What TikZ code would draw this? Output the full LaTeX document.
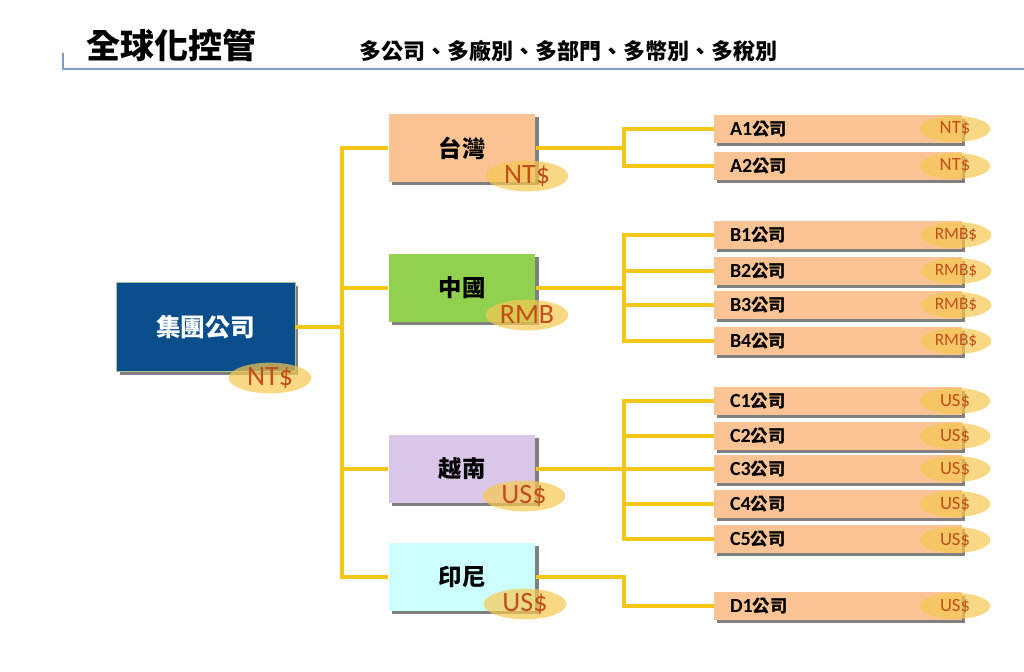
\documentclass[tikz,border=0pt]{standalone}
\usepackage{fontspec}
\setmainfont{Carlito}
\newfontfamily\cjk{Noto Sans CJK TC}
\newfontfamily\carl{Carlito}
\usetikzlibrary{shadows,shapes.geometric}
\definecolor{peach}{HTML}{FAC394}
\definecolor{green2}{HTML}{92D050}
\definecolor{lav}{HTML}{D9C6E8}
\definecolor{cyanl}{HTML}{CCFFFF}
\definecolor{navy}{HTML}{0B4E8C}
\definecolor{gold}{HTML}{F5C518}
\definecolor{ellfill}{HTML}{F7C850}
\definecolor{curr}{HTML}{C24E1A}
\definecolor{rule}{HTML}{7F9CC2}
\tikzset{
  conn/.style={draw=gold, line width=2.4pt},
  shad/.style={drop shadow={shadow xshift=2.6pt, shadow yshift=-2.6pt, fill=black!50, opacity=1}},
  topbox/.style={shad, fill=navy, draw=navy!60!yellow!60, line width=0.4pt, minimum width=134pt, minimum height=66.5pt, inner sep=0pt, text=white, font=\cjk\bfseries\fontsize{18.5}{20}\selectfont},
  regbox/.style={shad, minimum width=110pt, minimum height=51pt, inner sep=0pt, font=\cjk\bfseries\fontsize{17.5}{19}\selectfont},
  cobox/.style={shad, fill=peach, minimum width=186pt, minimum height=20.5pt, inner ysep=0pt, inner xsep=12pt, text width=162pt, align=left, font=\bfseries\fontsize{13}{15}\selectfont},
  ellbig/.style={ellipse, fill=ellfill, fill opacity=0.7, text opacity=1, text=curr, minimum width=62pt, minimum height=23pt, inner sep=0pt, font=\carl\fontsize{21}{23}\selectfont},
  ellsm/.style={ellipse, fill=ellfill, fill opacity=0.7, text opacity=1, text=curr, minimum width=53pt, minimum height=19.5pt, inner sep=0pt, font=\carl\fontsize{14}{16}\selectfont},
  ellrmb/.style={ellsm, font=\carl\fontsize{13}{15}\selectfont},
}
\newcommand{\co}[1]{{\carl\bfseries\fontsize{15}{15}\selectfont #1}{\cjk\bfseries 公司}}
\begin{document}
\begin{tikzpicture}[x=0.75pt,y=-0.75pt]
\useasboundingbox (0,0) rectangle (1024,671);
% header
\node[anchor=west, inner sep=0pt, font=\cjk\bfseries\fontsize{25.5}{27}\selectfont] (title) at (86,45) {全球化控管};
\node[anchor=west, inner sep=0pt, font=\cjk\bfseries\fontsize{16.5}{18}\selectfont] (sub) at (359,51) {多公司、多廠別、多部門、多幣別、多稅別};
\coordinate (r0) at (63,53);
\coordinate (r1) at (63,69);
\coordinate (r2) at (1024,69);
\draw[rule, line width=1.1pt] (r0) -- (r1) -- (r2);

% trunk coordinates
\coordinate (t) at (342,327);
\coordinate (ta) at (624,148);
\coordinate (tb) at (624,288);
\coordinate (tc) at (624,469);
\coordinate (td) at (624,577);

% boxes
\path node[topbox] (g) at (205.5,327) {集團公司};
\path node[regbox, fill=peach] (tw) at (462,148) {台灣};
\path node[regbox, fill=green2] (cn) at (462,288) {中國};
\path node[regbox, fill=lav] (vn) at (462,469) {越南};
\path node[regbox, fill=cyanl] (id) at (462,577) {印尼};

\path node[cobox] (a1) at (838,129) {\co{A1}};
\path node[cobox] (a2) at (838,166) {\co{A2}};
\path node[cobox] (b1) at (838,235) {\co{B1}};
\path node[cobox] (b2) at (838,271) {\co{B2}};
\path node[cobox] (b3) at (838,305) {\co{B3}};
\path node[cobox] (b4) at (838,341) {\co{B4}};
\path node[cobox] (c1) at (838,401) {\co{C1}};
\path node[cobox] (c2) at (838,436) {\co{C2}};
\path node[cobox] (c3) at (838,469) {\co{C3}};
\path node[cobox] (c4) at (838,504) {\co{C4}};
\path node[cobox] (c5) at (838,539) {\co{C5}};
\path node[cobox] (d1) at (838,606) {\co{D1}};

% connectors
\draw[conn] (g.east) -- (t);
\draw[conn] (tw.west) -| (t) |- (id.west);
\draw[conn] (t |- cn.west) -- (cn.west);
\draw[conn] (t |- vn.west) -- (vn.west);

\draw[conn] (tw.east) -- (ta);
\draw[conn] (a1.west) -| (ta) |- (a2.west);

\draw[conn] (cn.east) -- (tb);
\draw[conn] (b1.west) -| (tb) |- (b4.west);
\draw[conn] (tb |- b2.west) -- (b2.west);
\draw[conn] (tb |- b3.west) -- (b3.west);

\draw[conn] (vn.east) -- (tc);
\draw[conn] (c1.west) -| (tc) |- (c5.west);
\draw[conn] (tc |- c2.west) -- (c2.west);
\draw[conn] (tc |- c3.west) -- (c3.west);
\draw[conn] (tc |- c4.west) -- (c4.west);

\draw[conn] (id.east) -- (td) |- (d1.west);

% currency ellipses
\node[ellbig] (eg) at (270,378) {NT\$};
\node[ellbig] (etw) at (527,176) {NT\$};
\node[ellbig] (ecn) at (527,315) {RMB};
\node[ellbig] (evn) at (524,496) {US\$};
\node[ellbig] (eid) at (525,604) {US\$};

\node[ellsm] (ea1) at (955,129) {NT\$};
\node[ellsm] (ea2) at (955,166) {NT\$};
\node[ellrmb] (eb1) at (956,235) {RMB\$};
\node[ellrmb] (eb2) at (956,271) {RMB\$};
\node[ellrmb] (eb3) at (956,305) {RMB\$};
\node[ellrmb] (eb4) at (956,341) {RMB\$};
\node[ellsm] (ec1) at (955,401) {US\$};
\node[ellsm] (ec2) at (955,436) {US\$};
\node[ellsm] (ec3) at (955,469) {US\$};
\node[ellsm] (ec4) at (955,504) {US\$};
\node[ellsm] (ec5) at (955,540) {US\$};
\node[ellsm] (ed1) at (955,606) {US\$};
\end{tikzpicture}
\end{document}
